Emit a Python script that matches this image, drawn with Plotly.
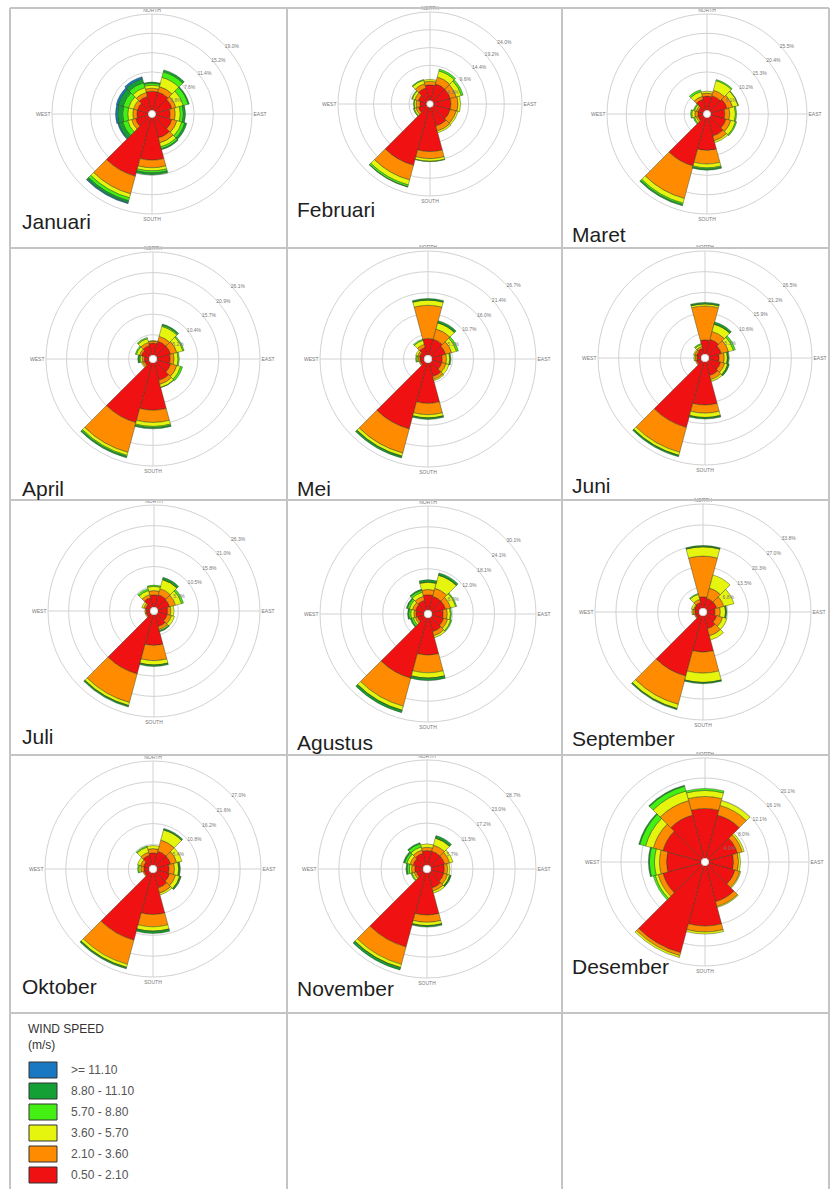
import plotly.graph_objects as go

W, H = 831, 1189

months = ["Januari", "Februari", "Maret", "April", "Mei", "Juni",
          "Juli", "Agustus", "September", "Oktober", "November", "Desember"]
directions = [0, 30, 60, 90, 120, 150, 180, 210, 240, 270, 300, 330]
compass_vals = [0, 90, 180, 270]
compass_text = ["NORTH", "EAST", "SOUTH", "WEST"]
speed_bins = ["0.50 - 2.10", "2.10 - 3.60", "3.60 - 5.70", "5.70 - 8.80", "8.80 - 11.10", ">= 11.10"]
bin_colors = ["#f01212", "#ff8c00", "#e6f50e", "#44f014", "#14a034", "#1a78c2"]
ring_max = [19.0, 24.0, 25.5, 26.1, 26.7, 26.5, 26.3, 30.1, 33.8, 27.0, 28.7, 20.1]

# frequency (%) per speed bin (rows, low->high) and direction (cols, N clockwise)
freq_jan = [[3.8, 3.8, 3.4, 2.9, 3.4, 4.2, 8.4, 12.0, 2.7, 2.3, 2.3, 2.9],
            [0.6, 1.1, 0.8, 1.0, 1.0, 1.0, 1.5, 3.6, 0.8, 0.8, 0.8, 0.8],
            [0.6, 1.9, 1.5, 1.0, 1.0, 0.8, 0.6, 0.8, 0.8, 1.0, 1.0, 1.0],
            [0.4, 1.1, 1.0, 0.6, 0.6, 0.4, 0.4, 0.6, 1.0, 1.0, 1.1, 1.0],
            [0.2, 0.4, 0.2, 0.4, 0.4, 0.2, 0.4, 0.4, 0.8, 1.0, 1.0, 0.8],
            [0.0, 0.0, 0.0, 0.0, 0.0, 0.0, 0.0, 0.2, 0.2, 0.4, 0.4, 0.4]]
freq_feb = [[4.3, 4.8, 4.8, 4.8, 4.8, 5.3, 12.0, 16.3, 2.4, 1.9, 2.4, 3.6],
            [1.0, 1.9, 1.7, 1.9, 1.7, 1.4, 1.9, 4.1, 0.7, 1.0, 1.0, 1.2],
            [0.5, 1.7, 1.4, 0.7, 0.5, 0.5, 0.7, 1.4, 0.5, 0.5, 0.7, 1.0],
            [0.0, 0.5, 0.5, 0.0, 0.0, 0.0, 0.1, 0.5, 0.2, 0.2, 0.2, 0.2],
            [0.0, 0.0, 0.0, 0.0, 0.0, 0.0, 0.0, 0.1, 0.0, 0.0, 0.0, 0.0],
            [0.0] * 12]
freq_mar = [[3.8, 4.1, 4.6, 3.8, 4.3, 5.1, 8.7, 13.3, 1.5, 1.5, 1.5, 3.1],
            [0.8, 1.5, 1.5, 1.3, 1.3, 1.3, 3.6, 8.9, 0.5, 0.8, 0.5, 0.8],
            [0.5, 2.6, 1.5, 1.5, 1.3, 0.5, 1.0, 1.3, 0.5, 0.8, 0.5, 1.3],
            [0.0, 0.3, 0.1, 0.3, 0.3, 0.0, 0.3, 0.4, 0.3, 0.3, 0.3, 0.5],
            [0.0, 0.0, 0.0, 0.0, 0.0, 0.0, 0.3, 0.3, 0.0, 0.0, 0.0, 0.0],
            [0.0] * 12]
freq_apr = [[3.1, 3.7, 3.7, 3.4, 3.7, 4.7, 12.0, 15.7, 1.3, 1.3, 2.1, 2.6],
            [0.5, 1.3, 1.6, 1.0, 1.6, 1.0, 3.1, 7.8, 0.5, 0.5, 0.5, 0.8],
            [0.1, 2.6, 1.6, 1.0, 1.0, 0.8, 1.0, 0.8, 0.3, 0.5, 0.8, 1.0],
            [0.0, 0.3, 0.3, 0.3, 0.5, 0.1, 0.3, 0.3, 0.0, 0.3, 0.3, 0.3],
            [0.0, 0.3, 0.0, 0.0, 0.0, 0.0, 0.3, 0.3, 0.0, 0.3, 0.0, 0.0],
            [0.0] * 12]
freq_mei = [[4.3, 4.3, 3.7, 2.7, 2.7, 3.7, 10.4, 17.6, 1.1, 1.1, 1.3, 2.1],
            [8.5, 2.7, 1.6, 1.1, 1.1, 0.8, 2.9, 6.4, 0.3, 0.5, 0.5, 0.8],
            [1.3, 1.6, 1.3, 0.8, 0.8, 0.3, 0.8, 0.8, 0.0, 0.3, 0.5, 1.1],
            [0.1, 0.1, 0.5, 0.0, 0.0, 0.0, 0.1, 0.1, 0.0, 0.3, 0.0, 0.3],
            [0.3, 0.5, 0.0, 0.3, 0.0, 0.0, 0.3, 0.4, 0.0, 0.0, 0.0, 0.0],
            [0.0] * 12]
freq_jun = [[3.7, 4.0, 3.4, 2.7, 3.2, 3.7, 11.1, 17.5, 1.3, 1.1, 1.3, 1.6],
            [8.7, 2.1, 1.9, 1.3, 1.1, 1.1, 2.1, 6.6, 0.3, 0.5, 0.5, 0.5],
            [0.5, 1.9, 1.3, 0.8, 0.8, 0.5, 1.1, 0.8, 0.0, 0.3, 0.3, 0.5],
            [0.1, 0.1, 0.5, 0.1, 0.1, 0.0, 0.1, 0.1, 0.0, 0.0, 0.0, 0.3],
            [0.3, 0.5, 0.0, 0.3, 0.3, 0.0, 0.3, 0.3, 0.0, 0.0, 0.0, 0.0],
            [0.0] * 12]
freq_jul = [[3.2, 3.4, 3.2, 2.6, 2.6, 3.2, 7.9, 15.8, 1.1, 1.1, 1.3, 2.6],
            [1.1, 1.6, 1.6, 0.8, 1.1, 0.8, 3.9, 7.6, 0.3, 0.3, 0.5, 0.8],
            [1.1, 2.4, 1.6, 0.8, 0.8, 0.3, 1.1, 0.8, 0.0, 0.0, 0.5, 1.1],
            [0.3, 0.1, 0.5, 0.0, 0.0, 0.0, 0.1, 0.1, 0.0, 0.0, 0.0, 0.5],
            [0.0, 0.5, 0.0, 0.0, 0.0, 0.3, 0.3, 0.3, 0.0, 0.0, 0.0, 0.0],
            [0.0] * 12]
freq_agu = [[4.5, 4.2, 4.2, 3.3, 3.6, 4.2, 10.8, 18.1, 2.1, 2.4, 2.7, 3.0],
            [1.5, 2.4, 1.5, 1.2, 1.2, 1.2, 5.1, 8.4, 0.6, 0.6, 0.9, 1.2],
            [2.1, 3.9, 1.5, 0.9, 0.9, 0.6, 1.5, 1.2, 0.6, 0.9, 0.9, 1.2],
            [0.1, 0.1, 0.3, 0.3, 0.3, 0.0, 0.1, 0.1, 0.6, 0.6, 0.6, 0.6],
            [0.6, 0.6, 0.0, 0.0, 0.0, 0.0, 0.6, 0.6, 0.3, 0.3, 0.3, 0.3],
            [0.0] * 12]
freq_sep = [[3.7, 3.4, 3.4, 2.7, 3.4, 4.4, 11.8, 20.3, 1.4, 1.4, 1.7, 2.0],
            [13.2, 3.4, 2.4, 1.7, 2.0, 2.4, 6.8, 9.5, 0.3, 0.7, 0.3, 1.0],
            [3.0, 4.4, 3.4, 1.7, 1.4, 1.4, 3.0, 1.4, 0.0, 0.3, 0.7, 1.7],
            [0.1, 0.0, 0.0, 0.1, 0.0, 0.0, 0.1, 0.1, 0.0, 0.0, 0.0, 0.3],
            [0.3, 0.0, 0.0, 0.3, 0.0, 0.0, 0.3, 0.3, 0.0, 0.0, 0.0, 0.0],
            [0.0] * 12]
freq_okt = [[3.2, 3.8, 3.8, 3.2, 3.5, 4.1, 10.8, 18.1, 1.4, 1.4, 1.6, 2.7],
            [1.1, 3.0, 1.6, 1.4, 1.6, 1.4, 3.2, 6.5, 0.3, 0.8, 0.8, 0.8],
            [0.8, 2.7, 1.4, 1.1, 1.1, 0.5, 1.1, 0.8, 0.0, 0.5, 0.8, 1.4],
            [0.0, 0.1, 0.0, 0.1, 0.1, 0.0, 0.1, 0.1, 0.0, 0.3, 0.0, 0.3],
            [0.0, 0.3, 0.0, 0.3, 0.3, 0.0, 0.5, 0.3, 0.0, 0.0, 0.0, 0.0],
            [0.0] * 12]
freq_nov = [[4.0, 4.0, 4.0, 3.7, 3.7, 4.3, 11.5, 21.0, 2.0, 2.3, 2.9, 3.4],
            [0.9, 1.7, 1.4, 0.9, 1.1, 0.9, 2.0, 4.9, 0.6, 0.9, 0.9, 0.9],
            [0.9, 2.0, 0.9, 0.6, 0.6, 0.6, 0.9, 0.9, 0.6, 0.6, 0.9, 0.9],
            [0.0, 0.1, 0.0, 0.0, 0.1, 0.0, 0.1, 0.1, 0.3, 0.6, 0.6, 0.9],
            [0.0, 0.6, 0.0, 0.0, 0.3, 0.0, 0.3, 0.6, 0.0, 0.3, 0.3, 0.3],
            [0.0] * 12]
freq_des = [[10.0, 9.0, 6.0, 5.0, 5.5, 7.5, 12.1, 18.1, 8.0, 7.0, 8.0, 9.0],
            [2.4, 2.0, 1.0, 1.0, 1.0, 1.0, 1.2, 0.6, 1.0, 1.4, 2.0, 3.0],
            [1.2, 1.0, 0.4, 0.4, 0.2, 0.2, 0.4, 0.4, 0.6, 1.0, 1.6, 2.0],
            [0.4, 0.0, 0.0, 0.0, 0.0, 0.0, 0.0, 0.0, 0.4, 1.0, 1.2, 1.0],
            [0.0, 0.0, 0.0, 0.0, 0.0, 0.0, 0.0, 0.0, 0.0, 0.2, 0.2, 0.2],
            [0.0] * 12]

freqs = [freq_jan, freq_feb, freq_mar, freq_apr, freq_mei, freq_jun,
         freq_jul, freq_agu, freq_sep, freq_okt, freq_nov, freq_des]

# panel layout (pixels)
centers = [(152, 114), (430, 104), (707, 114),
           (153, 359), (428, 359), (705, 358),
           (154, 611), (428, 614), (703, 612),
           (153, 869), (427, 869), (705, 862)]
radii = [100, 92, 100, 107, 108, 107, 106, 108, 108, 108, 109, 104]
label_xy = [(20, 222), (295, 209), (570, 234),
            (20, 488), (295, 488), (570, 485),
            (20, 736), (295, 742), (570, 738),
            (20, 986), (295, 988), (570, 966)]

fig = go.Figure()
layout_polars = {}
for i, (m, fr) in enumerate(zip(months, freqs)):
    name = "polar" if i == 0 else f"polar{i + 1}"
    for b in range(6):
        fig.add_trace(go.Barpolar(
            r=fr[b], theta=directions, width=[30] * len(directions),
            marker=dict(color=bin_colors[b], line=dict(color="rgba(40,60,30,0.7)", width=0.6)),
            name=speed_bins[b], subplot=name, showlegend=False))
    cx, cy = centers[i]
    rr = radii[i]
    rmax = ring_max[i]
    rings = [round(rmax * k / 5, 1) for k in range(1, 6)]
    layout_polars[name] = dict(
        domain=dict(x=[(cx - rr) / W, (cx + rr) / W], y=[1 - (cy + rr) / H, 1 - (cy - rr) / H]),
        bgcolor="white",
        hole=0.035,
        barmode="stack",
        radialaxis=dict(range=[0, rmax], tickvals=rings, ticktext=[f"{v}%" for v in rings],
                        angle=45, tickangle=45, showline=False, ticks="", gridcolor="#d2d2d2", gridwidth=1,
                        tickfont=dict(size=5, color="#777", family="Liberation Sans")),
        angularaxis=dict(rotation=90, direction="clockwise", tickvals=compass_vals,
                         ticktext=compass_text, showline=True, linecolor="#d2d2d2", linewidth=1,
                         gridcolor="#d2d2d2", ticks="",
                         tickfont=dict(size=5, color="#777", family="Liberation Sans")),
    )
fig.update_layout(**layout_polars)

# panel grid
shapes = []
grid_color = "#c4c4c4"
for x in [10, 287, 562, 829]:
    shapes.append(dict(type="line", xref="paper", yref="paper", x0=x / W, x1=x / W,
                       y0=1 - 8 / H, y1=0, line=dict(color=grid_color, width=2)))
for y in [8, 248, 500, 755, 1013]:
    shapes.append(dict(type="line", xref="paper", yref="paper", x0=10 / W, x1=829 / W,
                       y0=1 - y / H, y1=1 - y / H, line=dict(color=grid_color, width=2)))

annotations = []
for m, (lx, ly) in zip(months, label_xy):
    annotations.append(dict(text=m, x=lx / W, y=1 - ly / H, xref="paper", yref="paper",
                            xanchor="left", yanchor="middle", showarrow=False,
                            font=dict(size=21, color="#1e1e1e", family="Liberation Sans")))

# legend
annotations.append(dict(text="WIND SPEED<br>(m/s)", x=26 / W, y=1 - 1020 / H, xref="paper", yref="paper",
                        xanchor="left", yanchor="top", showarrow=False, align="left",
                        font=dict(size=12, color="#333", family="Liberation Sans")))
box_top = 1062
for k in range(6):
    b = 5 - k
    y0 = box_top + k * 21
    shapes.append(dict(type="rect", xref="paper", yref="paper", x0=29 / W, x1=57 / W,
                       y0=1 - (y0 + 16) / H, y1=1 - y0 / H, fillcolor=bin_colors[b],
                       line=dict(color="#333", width=1)))
    annotations.append(dict(text=speed_bins[b], x=69 / W, y=1 - (y0 + 8) / H, xref="paper", yref="paper",
                            xanchor="left", yanchor="middle", showarrow=False,
                            font=dict(size=12, color="#555", family="Liberation Sans")))

fig.update_layout(width=W, height=H, margin=dict(l=0, r=0, t=0, b=0),
                  paper_bgcolor="white", plot_bgcolor="white",
                  shapes=shapes, annotations=annotations, showlegend=False)

fig.write_html("out.html", config={"displayModeBar": False},
               post_script="document.body.style.margin='0';document.body.style.overflow='hidden';")
